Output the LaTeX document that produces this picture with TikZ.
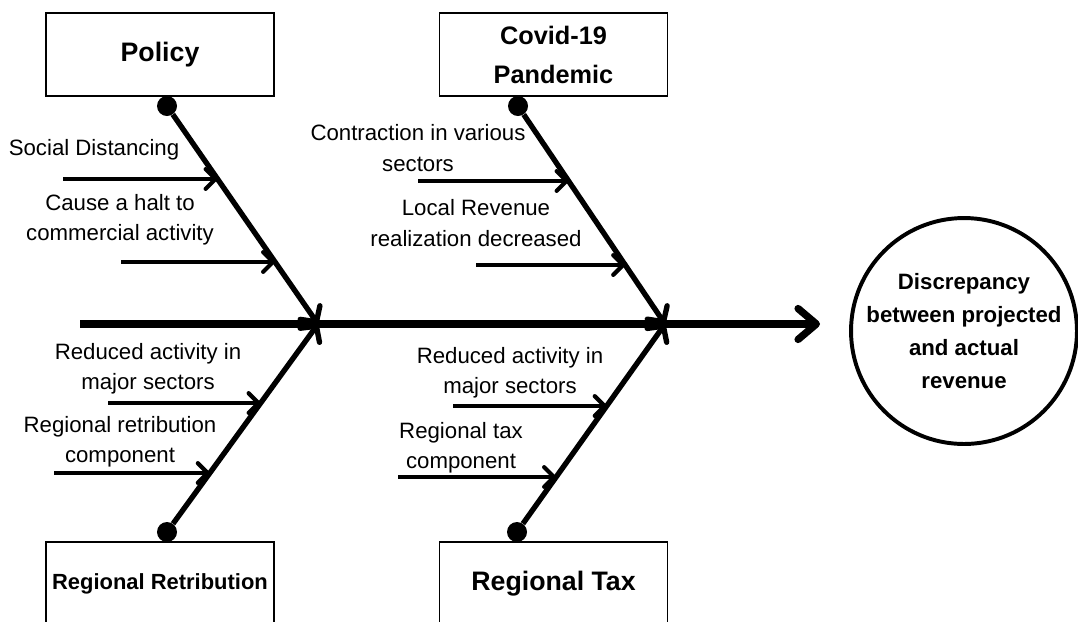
\documentclass[tikz,border=0pt]{standalone}
\usepackage{fontspec}
\setmainfont{Liberation Sans}
\usetikzlibrary{arrows.meta}

\begin{document}
\begin{tikzpicture}[x=0.025cm,y=-0.025cm,
        cat/.style={draw,line width=1pt,minimum width=5.7cm,minimum height=2.075cm,inner sep=0pt,align=center,font=\bfseries\fontsize{19}{27}\selectfont},
        lbl/.style={align=center,inner sep=0pt,font=\fontsize{15.8}{21.5}\selectfont},
        joint/.style={circle,fill=black,minimum size=0.5cm,inner sep=0pt},
        bone/.style={line width=3.8pt,-{Straight Barb[length=8pt,width=17pt,round]}},
        cause/.style={line width=3pt,-{Straight Barb[length=7pt,width=14pt,round]}}]
        \useasboundingbox (0,0) rectangle (1078,621);

        \node[cat] (policy) at (160,54.5) {Policy};
        \node[cat,font=\bfseries\fontsize{18}{27.7}\selectfont] (covid) at (553.5,54.5) {Covid-19\\Pandemic};
        \node[cat,font=\bfseries\fontsize{15.6}{21}\selectfont] (retrib) at (160,583.5) {Regional Retribution};
        \node[cat] (tax) at (553.5,583.5) {Regional Tax};
        \node[circle,draw,line width=2.8pt,minimum size=5.45cm,inner sep=0pt,align=center,
              font=\bfseries\fontsize{15.8}{23.5}\selectfont] (effect) at (964,331)
              {Discrepancy\\between projected\\and actual\\revenue};

        \coordinate (tail) at (80,324);
        \coordinate (head) at (820,324);
        \coordinate (jl) at (318,324);
        \coordinate (jr) at (665,324);
        \draw[line width=5.2pt,-{Straight Barb[length=13pt,width=22pt,round]}] (tail) -- (head);

        \node[joint] (pd) at (167,106) {};
        \node[joint] (cd) at (518,106) {};
        \node[joint] (rd) at (167,532) {};
        \node[joint] (td) at (517,532) {};
        \draw[bone] (pd) -- (jl);
        \draw[bone] (cd) -- (jr);
        \draw[bone] (rd) -- (jl);
        \draw[bone] (td) -- (jr);

        \node[lbl] (p1l) at (94,150) {Social Distancing};
        \node[lbl] (p2l) at (120,220) {Cause a halt to\\commercial activity};
        \node[lbl] (c1l) at (418,148) {Contraction in various\\sectors};
        \node[lbl] (c2l) at (476,223) {Local Revenue\\realization decreased};
        \node[lbl] (r1l) at (148,369) {Reduced activity in\\major sectors};
        \node[lbl] (r2l) at (120,442) {Regional retribution\\component};
        \node[lbl] (t1l) at (510,373) {Reduced activity in\\major sectors};
        \node[lbl] (t2l) at (461,448) {Regional tax\\component};

        \coordinate (p1) at (63,179);   \coordinate (p1e) at (217.6,179);
        \coordinate (p2) at (121,262);  \coordinate (p2e) at (275.1,262);
        \coordinate (c1) at (418,181);  \coordinate (c1e) at (568.6,181);
        \coordinate (c2) at (476,265);  \coordinate (c2e) at (625.2,265);
        \coordinate (r1) at (108,403);  \coordinate (r1e) at (260.6,403);
        \coordinate (r2) at (54,473);   \coordinate (r2e) at (209.8,473);
        \coordinate (t1) at (453,406);  \coordinate (t1e) at (606.7,406);
        \coordinate (t2) at (398,477);  \coordinate (t2e) at (556.1,477);
        \draw[cause] (p1) -- (p1e);
        \draw[cause] (p2) -- (p2e);
        \draw[cause] (c1) -- (c1e);
        \draw[cause] (c2) -- (c2e);
        \draw[cause] (r1) -- (r1e);
        \draw[cause] (r2) -- (r2e);
        \draw[cause] (t1) -- (t1e);
        \draw[cause] (t2) -- (t2e);
\end{tikzpicture}
\end{document}
